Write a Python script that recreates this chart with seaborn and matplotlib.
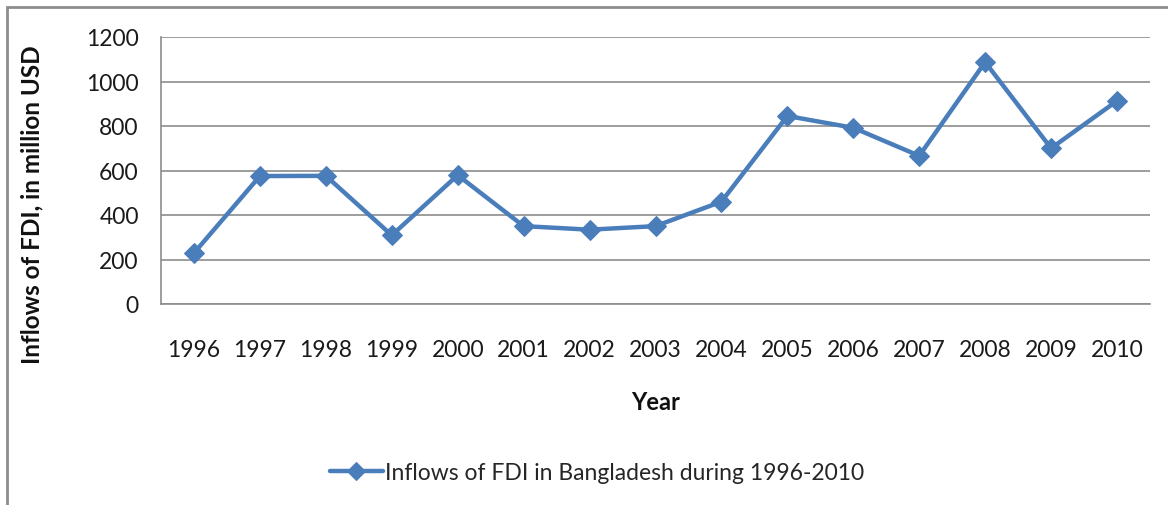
import pandas as pd
import seaborn as sns
import matplotlib.pyplot as plt
from matplotlib.patches import Rectangle

years = ["1996", "1997", "1998", "1999", "2000", "2001", "2002", "2003",
         "2004", "2005", "2006", "2007", "2008", "2009", "2010"]
fdi = [229, 575, 576, 309, 579, 350, 334, 350, 460, 845, 792, 666, 1087, 700, 913]
series_name = "Inflows of FDI in Bangladesh during 1996-2010"
yticks = [0, 200, 400, 600, 800, 1000, 1200]

df = pd.DataFrame({"Year": years, "FDI": fdi, "series": series_name})

sns.set_theme(style="white")
plt.rcParams["font.family"] = ["Lato", "DejaVu Sans"]

fig = plt.figure(figsize=(11.68, 5.06), dpi=100)
ax = fig.add_axes([161 / 1168, 1 - 305 / 506, (1150 - 161) / 1168, (305 - 38) / 506])

blue = "#4A7EBB"
sns.lineplot(data=df, x="Year", y="FDI", hue="series", palette=[blue],
             marker="D", markersize=10.5, linewidth=3.2, markeredgecolor=blue,
             sort=False, ax=ax, legend=True)

ax.set_xlim(-0.5, len(years) - 0.5)
ax.set_ylim(0, 1200)
ax.set_yticks(yticks)
ax.set_yticklabels([str(v) for v in yticks])
ax.yaxis.grid(True, color="#8c8c8c", linewidth=1.2)
ax.set_axisbelow(True)
ax.tick_params(axis="both", length=0, labelsize=16.5, colors="#1a1a1a")
ax.tick_params(axis="x", pad=25)
ax.tick_params(axis="y", pad=16)
for side in ["top", "right"]:
    ax.spines[side].set_visible(False)
for side in ["left", "bottom"]:
    ax.spines[side].set_color("#8c8c8c")
    ax.spines[side].set_linewidth(1.2)

ax.set_xlabel("Year", fontsize=17, fontweight="bold", labelpad=22, color="#111111")
ax.set_ylabel("")
fig.text(32 / 1168, 1 - 205 / 506, "Inflows of FDI, in million USD", rotation=90,
         ha="center", va="center", fontsize=17.5, fontweight="bold", color="#111111")

handles, labels = ax.get_legend_handles_labels()
leg = ax.legend(handles, labels, loc="center", bbox_to_anchor=(597 / 1168, 1 - 474 / 506),
                bbox_transform=fig.transFigure, frameon=False, fontsize=16.5,
                handlelength=2.3, handletextpad=0.1)
for h in leg.legend_handles:
    h.set_markersize(9)

# outer chart border, cut off at right and bottom like the reference
fig.patches.append(Rectangle((7 / 1168, -0.1), 1.2, 1 - 8 / 506 + 0.1,
                             transform=fig.transFigure, fill=False,
                             edgecolor="#8c8c8c", linewidth=2, clip_on=False))

fig.savefig("out.png", dpi=100)
